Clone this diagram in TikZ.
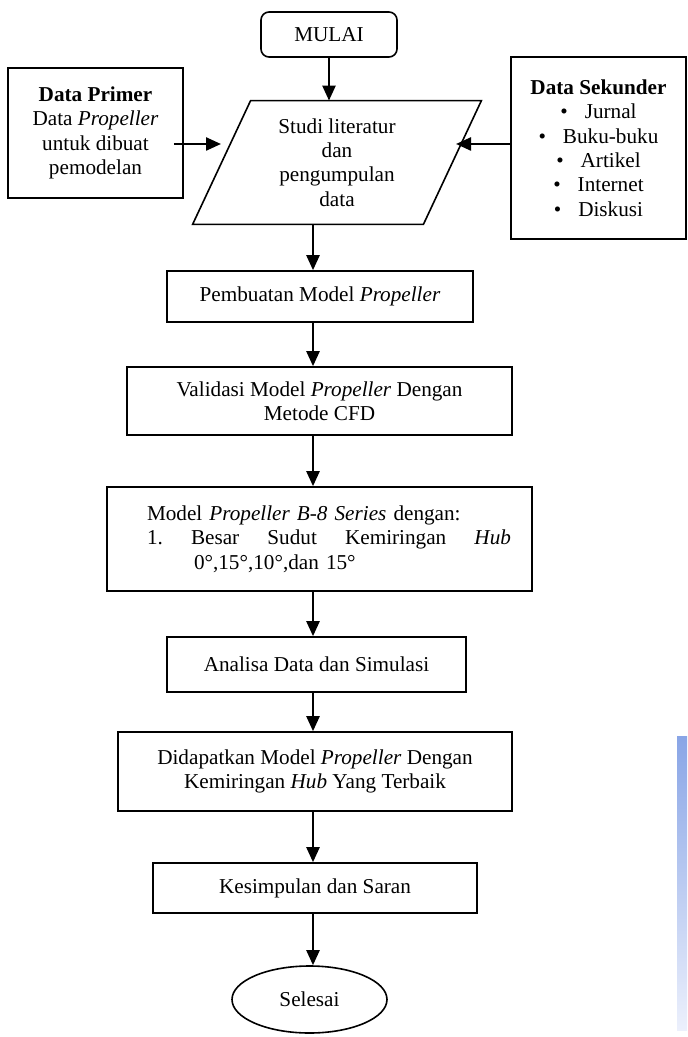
\documentclass[tikz,border=0pt]{standalone}
\usepackage{fontspec}
\setmainfont{Liberation Serif}
\usetikzlibrary{arrows.meta,calc,shapes.geometric}

\begin{document}
\begin{tikzpicture}[x=0.5pt,y=-0.5pt]
\tikzstyle{every node}=[font=\fontsize{10.6}{12.2}\selectfont,inner sep=0pt];
\tikzstyle{kotak}=[draw,line width=0.8pt,align=center];
\tikzstyle{panah}=[line width=1.2pt,-{Triangle[length=7.5pt,width=6.5pt]}];
\useasboundingbox (0,0) rectangle (687,1037);

% strip biru di tepi kanan
\shade[top color={rgb,255:red,137;green,165;blue,230},bottom color={rgb,255:red,236;green,240;blue,252}] (677,736) rectangle (687,1030);

\node[kotak,rounded corners=4pt,minimum width=68pt,minimum height=22.5pt] (mulai) at (329,34.5) {MULAI};
\node[align=center,minimum width=144pt,minimum height=61.5pt] (studi) at (337,162.5) {Studi literatur\\dan\\pengumpulan\\data};
\draw[line width=0.8pt] ($(studi.north west)+(58,0)$) -- (studi.north east) -- ($(studi.south east)-(58,0)$) -- (studi.south west) -- cycle;
\node[kotak,minimum width=87.5pt,minimum height=65pt] (primer) at (95.5,133) {\textbf{Data Primer}\\Data \textit{Propeller}\\untuk dibuat\\pemodelan};
\node[kotak,minimum width=87.5pt,minimum height=91pt] (sekunder) at (598.5,148) {\textbf{Data Sekunder}\\\textbullet\hspace{0.8em}Jurnal\\\textbullet\hspace{0.8em}Buku-buku\\\textbullet\hspace{0.8em}Artikel\\\textbullet\hspace{0.8em}Internet\\\textbullet\hspace{0.8em}Diskusi};

\node[kotak,minimum width=153pt,minimum height=25.5pt] (buat) at (320,296.5) {Pembuatan Model \textit{Propeller}};
\node[kotak,minimum width=192.5pt,minimum height=34pt] (valid) at (319.5,401) {Validasi Model \textit{Propeller} Dengan\\Metode CFD};
\node[draw,line width=0.8pt,align=left,text width=191.5pt,minimum width=212.5pt,minimum height=52pt] (model) at (319.5,539) {\leftskip=9.5pt Model \textit{Propeller B-8 Series} dengan:\\1.\hfill Besar\hfill Sudut\hfill Kemiringan\hfill \textit{Hub}\\\hspace*{33pt}0°,15°,10°,dan 15°};
\node[kotak,minimum width=149.5pt,minimum height=27.5pt] (analisa) at (316.5,664.5) {Analisa Data dan Simulasi};
\node[kotak,minimum width=197pt,minimum height=39.5pt] (hasil) at (315,771.5) {Didapatkan Model \textit{Propeller} Dengan\\Kemiringan \textit{Hub} Yang Terbaik};
\node[kotak,minimum width=162pt,minimum height=25pt] (simpul) at (315,888) {Kesimpulan dan Saran};
\node[kotak,ellipse,minimum width=77.5pt,minimum height=33.5pt] (selesai) at (309.5,999.5) {Selesai};

\coordinate (kol) at (313,0);
\coordinate (kiri) at (221,144);
\coordinate (kanan) at (456,144);

\draw[panah] (mulai.south) -- (mulai.south |- studi.north);
\draw[panah] ($(primer.east |- kiri)+(-10,0)$) -- (kiri);
\draw[panah] (sekunder.west |- kanan) -- (kanan);
\foreach \a/\b in {studi/buat,buat/valid,valid/model,model/analisa,analisa/hasil,hasil/simpul,simpul/selesai}
  \draw[panah] (\a.south -| kol) -- (\b.north -| kol);
\end{tikzpicture}
\end{document}
